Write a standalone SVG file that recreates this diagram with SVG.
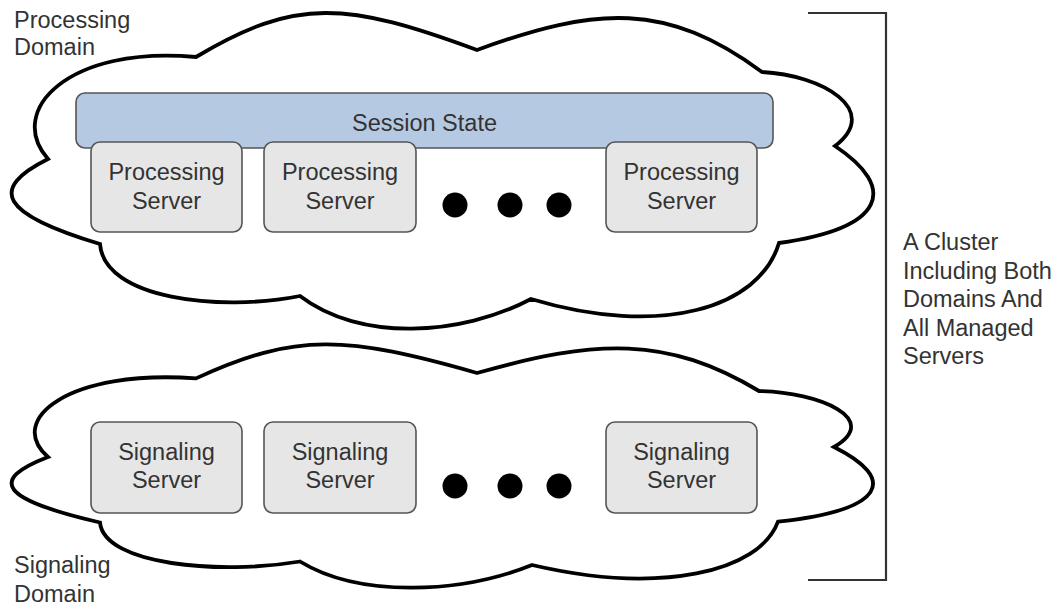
<svg xmlns="http://www.w3.org/2000/svg" width="1062" height="606" viewBox="0 0 1062 606">
<style>
.cloud{fill:#ffffff;stroke:#000000;stroke-width:3.8;stroke-linejoin:miter;stroke-miterlimit:10}
.box{fill:#e6e6e6;stroke:#555555;stroke-width:1.6}
.bar{fill:#b6c9e2;stroke:#555555;stroke-width:1.6}
.t{font-family:"Liberation Sans",Arial,sans-serif;font-size:23.5px;fill:#333333}
.c{text-anchor:middle}
.dot{fill:#000000}
.br{fill:none;stroke:#333333;stroke-width:2.2}
</style>
<rect width="1062" height="606" fill="#ffffff"/>
<g id="processing-domain">
<path class="cloud" d="M196,57 C296,-3 347,2 477,50 C597,6 667,2 762,72 C822,75 882,110 835,146 C898,188 886,228 779,243 C759.5,308 661,338 531,299 C461,336 360,342 300,296 C220,312 104,299 100,244 C0,214 -12,189 48,159 C5,110 70,45 196,57 Z"/>
<text class="t" x="14" y="27.5">Processing</text>
<text class="t" x="14" y="55">Domain</text>
</g>
<g id="signaling-domain">
<path class="cloud" d="M196,378.4 C296,332.1 347,336 477,373 C597,339 667,335.9 759,391 C820,392.2 882,419.2 834,447 C898,479 886,510 778,521.7 C759.5,571.9 661,595 532,565 C461,593.5 360,598.1 300,561.5 C220,575 104,565 100,522.5 C0,499.4 -12,480.1 48,457 C5,419.2 70,369.1 196,378.4 Z"/>
<text class="t" x="14" y="573">Signaling</text>
<text class="t" x="14" y="601.5">Domain</text>
</g>
<g id="session-state">
<rect class="bar" x="76" y="93" width="697" height="55" rx="9"/>
<text class="t c" x="424.5" y="130.5">Session State</text>
</g>
<g id="processing-server-1">
<rect class="box" x="91" y="142" width="151" height="90" rx="9"/>
<text class="t c" x="166.5" y="180">Processing</text>
<text class="t c" x="166.5" y="208.5">Server</text>
</g>
<g id="processing-server-2">
<rect class="box" x="264" y="142" width="152" height="90" rx="9"/>
<text class="t c" x="340" y="180">Processing</text>
<text class="t c" x="340" y="208.5">Server</text>
</g>
<g id="processing-ellipsis">
<circle class="dot" cx="455" cy="205" r="12.5"/>
<circle class="dot" cx="510" cy="205" r="12.5"/>
<circle class="dot" cx="559" cy="205" r="12.5"/>
</g>
<g id="processing-server-n">
<rect class="box" x="606" y="142" width="151" height="90" rx="9"/>
<text class="t c" x="681.5" y="180">Processing</text>
<text class="t c" x="681.5" y="208.5">Server</text>
</g>
<g id="signaling-server-1">
<rect class="box" x="91" y="422" width="151" height="91" rx="9"/>
<text class="t c" x="166.5" y="459.5">Signaling</text>
<text class="t c" x="166.5" y="488">Server</text>
</g>
<g id="signaling-server-2">
<rect class="box" x="264" y="422" width="152" height="91" rx="9"/>
<text class="t c" x="340" y="459.5">Signaling</text>
<text class="t c" x="340" y="488">Server</text>
</g>
<g id="signaling-ellipsis">
<circle class="dot" cx="455" cy="486" r="12.5"/>
<circle class="dot" cx="510" cy="486" r="12.5"/>
<circle class="dot" cx="559" cy="486" r="12.5"/>
</g>
<g id="signaling-server-n">
<rect class="box" x="606" y="422" width="151" height="91" rx="9"/>
<text class="t c" x="681.5" y="459.5">Signaling</text>
<text class="t c" x="681.5" y="488">Server</text>
</g>
<g id="connectors">
<path class="br" d="M808,13 H886 V580 H808"/>
</g>
<g id="cluster-label">
<text class="t" x="903" y="250">A Cluster</text>
<text class="t" x="903" y="278.5">Including Both</text>
<text class="t" x="903" y="307">Domains And</text>
<text class="t" x="903" y="335.5">All Managed</text>
<text class="t" x="903" y="364">Servers</text>
</g>
</svg>
